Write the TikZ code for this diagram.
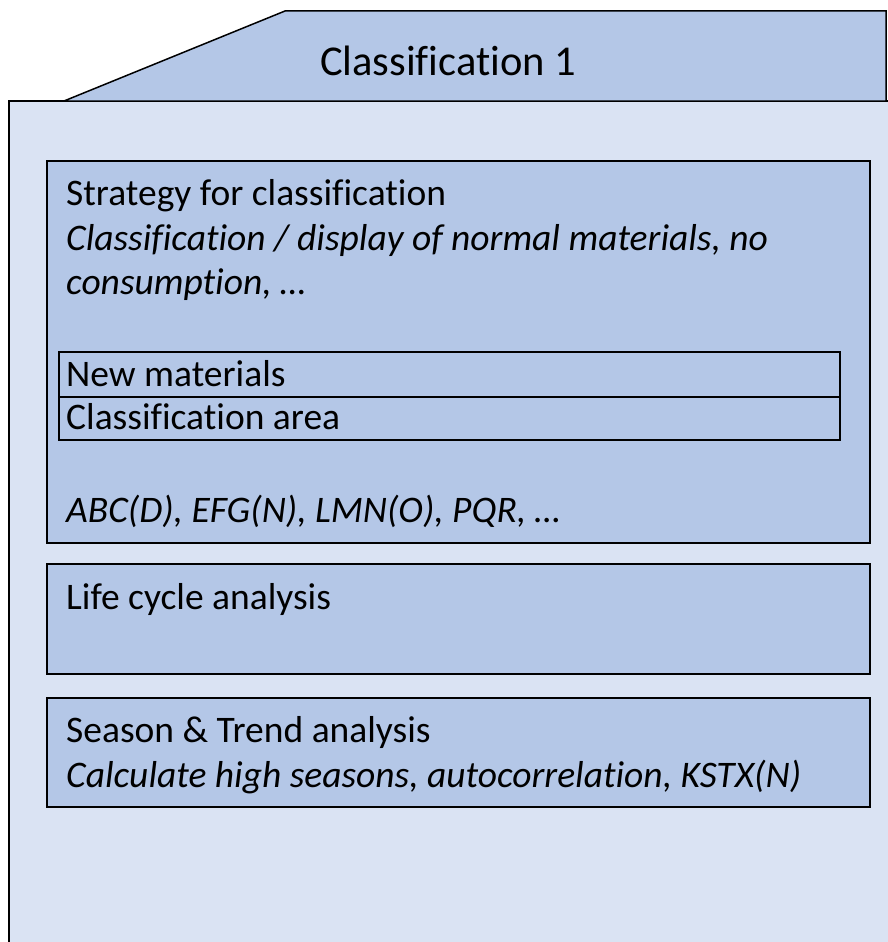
\documentclass[tikz,border=0pt]{standalone}
\usepackage{fontspec}
\setmainfont[Ligatures=CommonOff]{Carlito}
\usetikzlibrary{positioning}
\definecolor{tabblue}{HTML}{B4C7E7}
\definecolor{bodyblue}{HTML}{DAE3F3}
\tikzset{
  panel/.style={draw=black, line width=1.5pt, fill=tabblue, inner sep=0pt, anchor=north west},
  txt/.style={anchor=base west, inner sep=0pt, font=\fontsize{37.5}{45}\selectfont},
}

\begin{document}
\begin{tikzpicture}[x=1pt, y=-1pt]
\useasboundingbox (0,0) rectangle (887,942);

% body and tab
\draw[fill=bodyblue, line width=1.5pt] (9,101) rectangle (900,960);
\draw[fill=tabblue, line width=1.5pt] (64,101) -- (285,11) -- (886,11) -- (886,101) -- cycle;
\node[anchor=base, inner sep=0pt, font=\fontsize{42.5}{50}\selectfont] (title) at (448,76) {Classification 1};

% strategy box
\node[panel, minimum width=823pt, minimum height=382pt] (strategy) at (46,160) {};
\node[txt] (strategyhead) at (66,205) {Strategy for classification};
\node[txt] (strategyline1) at (66,250) {\itshape Classification / display of normal materials, no};
\node[txt] (strategyline2) at (66,294) {\itshape consumption, …};

\node[panel, minimum width=781pt, minimum height=45pt] (newmat) at (58,351) {};
\node[panel, minimum width=781pt, minimum height=43pt] (area) at (58,396) {};
\node[txt] (newmattext) at (66,386) {New materials};
\node[txt] (areatext) at (66,429) {Classification area};

\node[txt] (codes) at (66,522) {\itshape ABC(D), EFG(N), LMN(O), PQR, …};

% life cycle box
\node[panel, minimum width=823pt, minimum height=110pt] (lifecycle) at (46,563) {};
\node[txt] (lifecyclehead) at (66,609) {Life cycle analysis};

% season box
\node[panel, minimum width=823pt, minimum height=109pt] (season) at (46,697) {};
\node[txt] (seasonhead) at (66,742) {Season \& Trend analysis};
\node[txt] (seasonline) at (66,787) {\itshape Calculate high seasons, autocorrelation, KSTX(N)};
\end{tikzpicture}
\end{document}
